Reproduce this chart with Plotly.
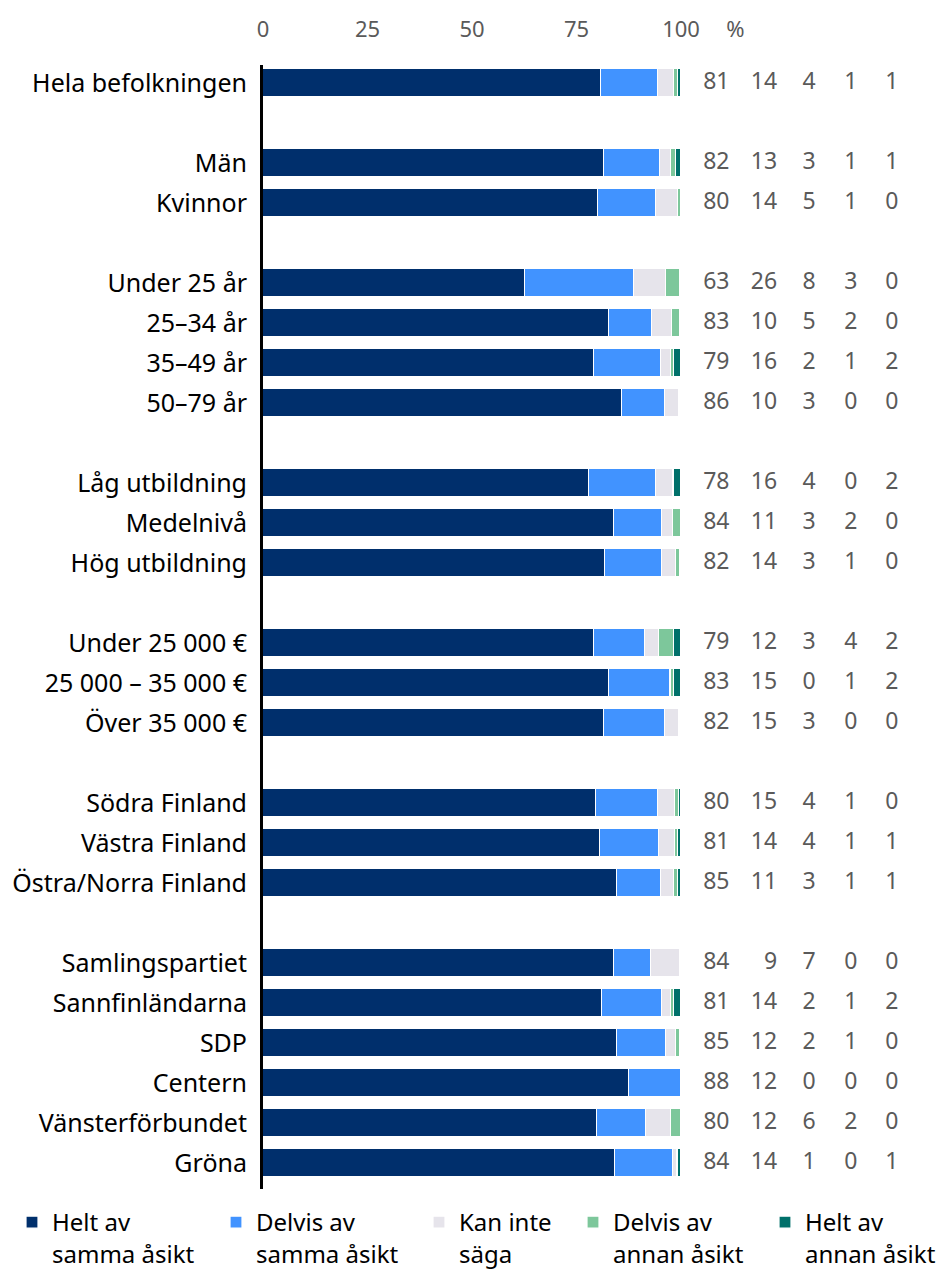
import plotly.graph_objects as go

categories = ["Hela befolkningen", "Män", "Kvinnor", "Under 25 år", "25–34 år", "35–49 år",
              "50–79 år", "Låg utbildning", "Medelnivå", "Hög utbildning", "Under 25 000 €",
              "25 000 – 35 000 €", "Över 35 000 €", "Södra Finland", "Västra Finland",
              "Östra/Norra Finland", "Samlingspartiet", "Sannfinländarna", "SDP", "Centern",
              "Vänsterförbundet", "Gröna"]
# row slot of each category (empty slots separate the groups)
slots = [0, 2, 3, 5, 6, 7, 8, 10, 11, 12, 14, 15, 16, 18, 19, 20, 22, 23, 24, 25, 26, 27]

series_names = ["Helt av<br>samma åsikt", "Delvis av<br>samma åsikt", "Kan inte<br>säga",
                "Delvis av<br>annan åsikt", "Helt av<br>annan åsikt"]

helt_samma = [80.9, 81.6, 80.1, 62.7, 82.7, 79.2, 85.9, 78.1, 84.0, 81.8, 79.3, 82.7, 81.6,
              79.6, 80.7, 84.6, 84.0, 81.0, 84.8, 87.6, 80.0, 84.2]
delvis_samma = [13.6, 13.4, 13.9, 26.0, 10.3, 15.9, 10.3, 15.9, 11.4, 13.7, 12.2, 14.6, 14.6,
                14.8, 14.0, 10.6, 8.8, 14.4, 11.7, 12.4, 11.7, 13.9]
kan_inte = [3.9, 2.7, 5.2, 7.7, 4.8, 2.4, 3.4, 4.0, 2.8, 3.3, 3.2, 0.3, 3.4,
            4.1, 3.9, 3.2, 7.0, 2.2, 2.4, 0.0, 6.0, 1.0]
delvis_annan = [1.0, 1.1, 0.8, 3.4, 1.9, 0.9, 0.2, 0.3, 1.8, 1.0, 3.6, 0.7, 0.2,
                1.1, 0.8, 0.9, 0.1, 0.7, 0.8, 0.0, 2.3, 0.3]
helt_annan = [0.6, 1.2, 0.0, 0.2, 0.3, 1.6, 0.2, 1.7, 0.0, 0.2, 1.7, 1.7, 0.2,
              0.4, 0.6, 0.7, 0.1, 1.7, 0.3, 0.0, 0.0, 0.6]

series = [helt_samma, delvis_samma, kan_inte, delvis_annan, helt_annan]
colors = ["#002F6C", "#4193FF", "#E6E4EB", "#7DC79B", "#00706A"]

x_tickvals = [0, 25, 50, 75, 100, 113]
x_ticktext = ["0", "25", "50", "75", "100", "%"]
value_cols_x = [111.6, 123.0, 132.2, 142.2, 152.0]

# the page body adds an 8px offset, so figure coordinates = page coordinates - 8
OFF = 8
W, H = 944, 1270
ML, MR, MT, MB = 263 - OFF, 0, 65 - OFF, 81 + OFF
PXU = 4.18
plot_w = W - ML - MR
plot_h = H - MT - MB
xmax = plot_w / PXU

fig = go.Figure()
legend_text_px = [53, 257, 460, 614, 806]   # page x where each legend text starts
legend_ids = ["legend", "legend2", "legend3", "legend4", "legend5"]
for i, (name, vals, col) in enumerate(zip(series_names, series, colors)):
    fig.add_trace(go.Bar(
        y=slots, x=vals, name=name, orientation="h", width=0.7,
        marker=dict(color=col, line=dict(color="white", width=1.2)),
        legend=legend_ids[i], hoverinfo="x+name",
    ))

for vals, cx in zip(series, value_cols_x):
    fig.add_trace(go.Scatter(
        x=[cx] * len(slots), y=slots, mode="text",
        text=[str(int(v + 0.5)) for v in vals], textposition="middle left",
        textfont=dict(size=23, color="#5A5A5A", family="Noto Sans"),
        showlegend=False, hoverinfo="skip", cliponaxis=False,
    ))

legend_top_fig = 1192
layout_legends = {}
for i, lid in enumerate(legend_ids):
    left_fig = legend_text_px[i] - OFF - 41
    layout_legends[lid] = dict(
        x=(left_fig - ML) / plot_w, xanchor="left",
        y=(H - MB - legend_top_fig) / plot_h, yanchor="top", orientation="h", valign="top",
        font=dict(size=24, color="#000000", family="Noto Sans"),
        bgcolor="rgba(0,0,0,0)", itemwidth=30, traceorder="normal",
    )

fig.update_layout(
    width=W, height=H, barmode="stack", bargap=0,
    margin=dict(l=ML, r=MR, t=MT, b=MB, autoexpand=False),
    plot_bgcolor="white", paper_bgcolor="white",
    font=dict(family="Noto Sans"),
    xaxis=dict(range=[0, xmax], side="top", tickvals=x_tickvals, ticktext=x_ticktext,
               showgrid=False, zeroline=False, showline=False,
               ticks="outside", ticklen=18, tickcolor="rgba(0,0,0,0)",
               tickfont=dict(size=22, color="#5A5A5A", family="Noto Sans")),
    yaxis=dict(range=[27.65, -0.45], tickvals=slots, ticktext=categories,
               showgrid=False, zeroline=False, showline=True, linecolor="black", linewidth=3,
               ticks="outside", ticklen=8, tickcolor="rgba(0,0,0,0)",
               tickfont=dict(size=25, color="#000000", family="Noto Sans")),
    **layout_legends,
)

fig.write_html("out.html")
